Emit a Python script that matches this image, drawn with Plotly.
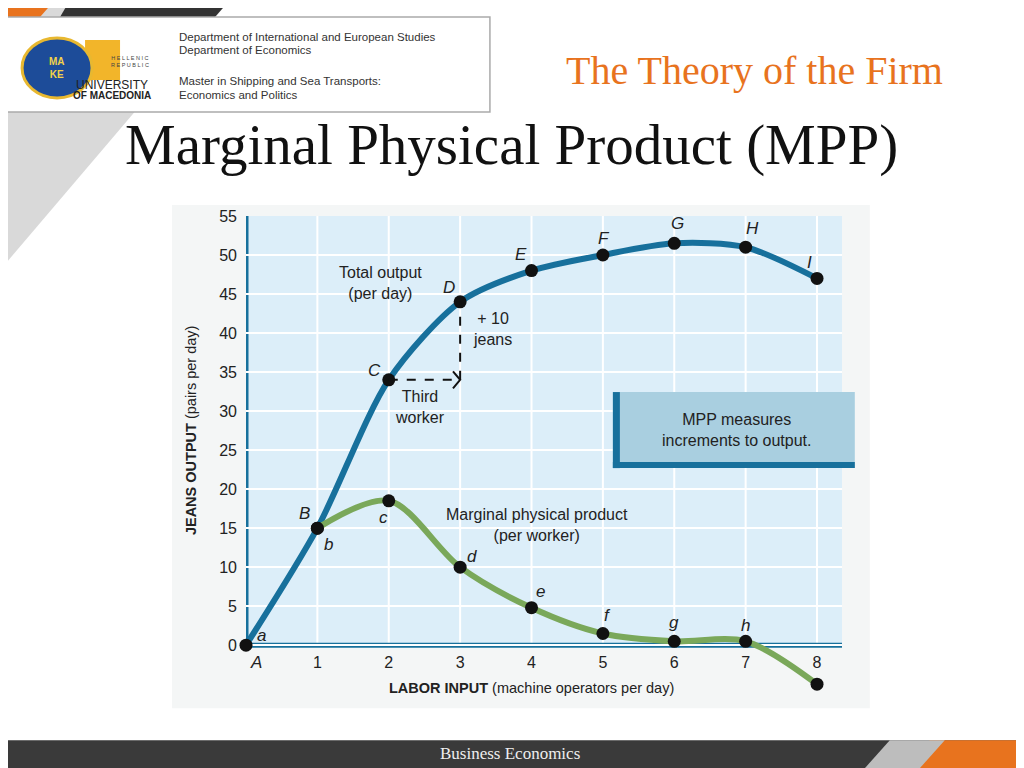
import plotly.graph_objects as go

labor = [0, 1, 2, 3, 4, 5, 6, 7, 8]
total_output = [0, 15, 34, 44, 48, 50, 51.5, 51, 47]
total_labels = ["A", "B", "C", "D", "E", "F", "G", "H", "I"]
mpp_x = [1, 2, 3, 4, 5, 6, 7, 8]
mpp = [15, 18.5, 10, 4.8, 1.5, 0.5, 0.5, -5]
mpp_labels = ["b", "c", "d", "e", "f", "g", "h", "i"]
y_ticks = [0, 5, 10, 15, 20, 25, 30, 35, 40, 45, 50, 55]
x_ticks = [1, 2, 3, 4, 5, 6, 7, 8]

OFF = 8  # page body margin
W, H = 1016, 760
YMIN, YMAX = -6, 55
XMAX = 8.35
SL, SR = 246, 246 + 71.4 * XMAX
ST = 216
SB = 645 + (645 - 216) / 55 * 6
L = SL - OFF; T = ST - OFF
R = W - (SR - OFF); B = H - (SB - OFF)
PW, PH = W - L - R, H - T - B
def px(x): return (x - OFF - L) / PW
def py(y): return (H - B - (y - OFF)) / PH

BLUE = "#17709c"
GREEN = "#7aa85a"

fig = go.Figure()
fig.add_trace(go.Scatter(x=labor, y=total_output, mode="lines+markers",
    line=dict(color=BLUE, width=6, shape="spline", smoothing=0.8),
    marker=dict(color="#111", size=13), cliponaxis=False, hoverinfo="skip"))
fig.add_trace(go.Scatter(x=mpp_x, y=mpp, mode="lines+markers",
    line=dict(color=GREEN, width=6, shape="spline", smoothing=0.9),
    marker=dict(color="#111", size=13), cliponaxis=False, hoverinfo="skip"))

shapes = []
def rect(x0, y0, x1, y1, color, line=None, layer="below"):
    shapes.append(dict(type="rect", xref="paper", yref="paper", x0=px(x0), x1=px(x1),
        y0=py(y1), y1=py(y0), fillcolor=color, line=line or dict(width=0), layer=layer))
def poly(pts, color, layer="below"):
    path = "M " + " L ".join(f"{px(a)},{py(b)}" for a, b in pts) + " Z"
    shapes.append(dict(type="path", xref="paper", yref="paper", path=path,
        fillcolor=color, line=dict(width=0), layer=layer))

poly([(0, 0), (230, 0), (0, 270)], "#d9d9d9")
poly([(0, 0), (55, 0), (40, 17), (0, 17)], "#e8731e")
poly([(70, 0), (230, 0), (215, 17), (60, 17)], "#333333")
rect(0, 740, 1024, 768, "#3a3a3a")
poly([(930, 740), (1024, 740), (1024, 768), (905, 768)], "#e8731e")
poly([(890, 740), (945, 740), (920, 768), (865, 768)], "#bdbdbd")
rect(0, 17, 490, 112, "white", dict(color="#aaaaaa", width=1.5), layer="above")
rect(172, 205, 870, 708, "#f4f6f6")
shapes.append(dict(type="rect", xref="x", yref="y", x0=0, x1=XMAX, y0=0, y1=55,
    fillcolor="#dceef9", line=dict(width=0), layer="below"))
for xv in x_ticks:
    shapes.append(dict(type="line", xref="x", yref="y", x0=xv, x1=xv, y0=0, y1=55,
        line=dict(color="white", width=2), layer="below"))
shapes.append(dict(type="line", xref="x", yref="y", x0=0, x1=XMAX, y0=0, y1=0,
    line=dict(color=BLUE, width=5), layer="below"))
shapes.append(dict(type="line", xref="x", yref="y", x0=0, x1=0, y0=0, y1=55,
    line=dict(color=BLUE, width=5), layer="below"))
shapes.append(dict(type="line", x0=2, x1=3, y0=34, y1=34, line=dict(color="#111", width=2, dash="dash")))
shapes.append(dict(type="line", x0=3, x1=3, y0=34, y1=44, line=dict(color="#111", width=2, dash="dash")))
shapes.append(dict(type="path", path="M 2.9,35.1 L 3,34 L 2.9,32.9", line=dict(color="#111", width=2)))
rect(613, 392, 855, 468, "#a9cfe0", dict(width=0), layer="above")
rect(613, 392, 620, 468, BLUE, layer="above")
rect(613, 462, 855, 468, BLUE, layer="above")

ann = []
def t(x, y, s, size=16, color="#222", xref="x", yref="y", **kw):
    fam = kw.pop("family", "Liberation Sans")
    d = dict(x=x, y=y, xref=xref, yref=yref, text=s, showarrow=False,
        xanchor="center", yanchor="middle",
        font=dict(size=size, color=color, family=fam))
    d.update(kw)
    ann.append(d)
def tp(sx, sy, s, size=16, color="#222", **kw):
    t(px(sx), py(sy), s, size, color, xref="paper", yref="paper", **kw)

off_total = {"B": (-0.18, 1.9), "C": (-0.2, 1.2), "D": (-0.15, 1.9),
             "E": (-0.15, 2.1), "F": (0.02, 2.1), "G": (0.05, 2.6), "H": (0.1, 2.4), "I": (-0.1, 2.1)}
for xv, yv, lab in zip(labor, total_output, total_labels):
    if lab not in off_total:
        continue
    dx, dy = off_total[lab]
    t(xv + dx, yv + dy, f"<i>{lab}</i>", 17)
off_mpp = {"b": (0.15, -2.1), "c": (-0.07, -2.2), "d": (0.17, 1.4), "e": (0.12, 2.1),
           "f": (0.07, 2.3), "g": (0.0, 2.4), "h": (0.0, 2.0), "i": (-0.23, -1.2)}
for xv, yv, lab in zip(mpp_x, mpp, mpp_labels):
    dx, dy = off_mpp[lab]
    t(xv + dx, yv + dy, f"<i>{lab}</i>", 17)
t(0.22, 1.3, "<i>a</i>", 17)
t(1.88, 46.4, "Total output<br>(per day)", 16)
t(3.45, 40.5, "+ 10<br>jeans", 16)
t(2.44, 30.5, "Third<br>worker", 16)
t(4.08, 15.4, "Marginal physical product<br>(per worker)", 16)
tp(737, 430, "MPP measures<br>increments to output.", 16)
tp(532, 688, "<b>LABOR INPUT</b> (machine operators per day)", 14.5)
tp(191, 430, "<b>JEANS OUTPUT</b> (pairs per day)", 14.5, textangle=-90)
tp(256, 662, "<i>A</i>", 17)
tp(755, 71, "The Theory of the Firm", 40, "#e8731e", family="Liberation Serif")
tp(512, 145, "Marginal Physical Product (MPP)", 57, "#111", family="Liberation Serif")
tp(510, 753, "Business Economics", 17, "#eeeeee", family="Liberation Serif")
for sy, s in [(37, "Department of International and European Studies"), (50, "Department of Economics"),
              (81, "Master in Shipping and Sea Transports:"), (95, "Economics and Politics")]:
    tp(177, sy, s, 11.5, "#333", xanchor="left")
tp(112, 85, "UNIVERSITY", 12, "#222")
tp(112, 96, "<b>OF MACEDONIA</b>", 10, "#222")
tp(130, 62, "H E L L E N I C<br>R E P U B L I C", 5.5, "#444")
shapes.append(dict(type="rect", xref="paper", yref="paper", x0=px(85), x1=px(120), y0=py(80), y1=py(40),
    fillcolor="#f2b52a", line=dict(width=0), layer="above"))
shapes.append(dict(type="circle", xref="paper", yref="paper", x0=px(22), x1=px(92), y0=py(98), y1=py(38),
    fillcolor="#1d4c99", line=dict(color="#e8b830", width=3), layer="above"))
tp(57, 68, "<b>MA<br>KE</b>", 10, "#f2d24a")

fig.update_layout(
    width=W, height=H, margin=dict(l=L, r=R, t=T, b=B),
    paper_bgcolor="white", plot_bgcolor="rgba(0,0,0,0)", showlegend=False,
    shapes=shapes, annotations=ann,
    font=dict(family="Liberation Sans", color="#222"),
    xaxis=dict(range=[0, XMAX], tickvals=x_ticks, ticks="", showgrid=False,
               zeroline=False, tickfont=dict(size=16), fixedrange=True, ticklabelstandoff=6,
               anchor="free", position=(0 - YMIN) / (YMAX - YMIN)),
    yaxis=dict(range=[YMIN, YMAX], tickvals=y_ticks, ticks="", showgrid=True, gridcolor="white",
               gridwidth=2, zeroline=False, tickfont=dict(size=16), ticklabelstandoff=8, fixedrange=True),
)
fig.write_html("out.html")
